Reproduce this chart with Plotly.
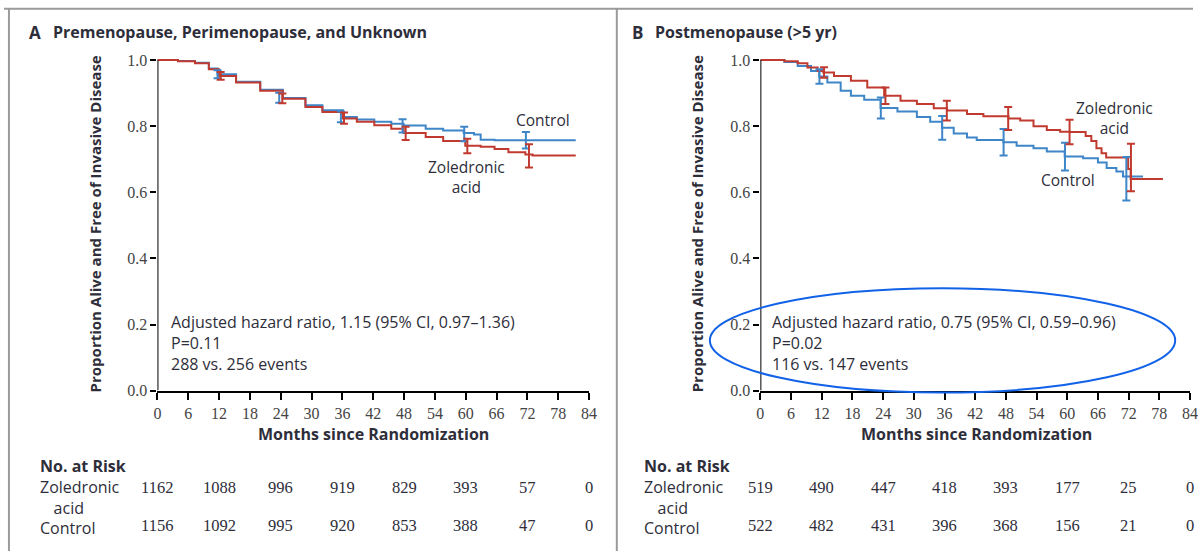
import plotly.graph_objects as go

W, H = 1201, 560

# ---------------- data ----------------
x_ticks = list(range(0, 85, 6))
y_ticks = [0.0, 0.2, 0.4, 0.6, 0.8, 1.0]
y_tick_text = ["0.0", "0.2", "0.4", "0.6", "0.8", "1.0"]
risk_months = [0, 12, 24, 36, 48, 60, 72, 84]
bar_months = [12, 24, 36, 48, 60, 72]

# Panel A: Premenopause, Perimenopause, and Unknown
a_zol_t = [0, 4, 7.3, 10, 12, 15.3, 20, 24.4, 28.8, 32.1, 36.1, 38.8, 42.2, 45.5, 47.9, 52.2,
           55.6, 59.9, 62.9, 65.6, 68.3, 71.6, 73, 81.4]
a_zol_s = [1.0, 0.996, 0.990, 0.972, 0.952, 0.932, 0.907, 0.883, 0.858, 0.843, 0.823, 0.813,
           0.803, 0.792, 0.779, 0.767, 0.755, 0.741, 0.738, 0.731, 0.721, 0.714, 0.711, 0.711]
a_ctl_t = [0, 4, 7.3, 10, 11.7, 15.3, 20, 24.4, 28.8, 32.1, 36.1, 38.8, 42.2, 45.5, 47.9, 52.2,
           55.6, 59.6, 61.6, 62.9, 65.6, 81.4]
a_ctl_s = [1.0, 0.997, 0.992, 0.974, 0.957, 0.934, 0.910, 0.885, 0.863, 0.848, 0.828, 0.820,
           0.813, 0.807, 0.802, 0.792, 0.787, 0.779, 0.775, 0.759, 0.757, 0.757]
a_zol_bar = [0.952, 0.884, 0.824, 0.778, 0.740, 0.710]
a_zol_err = [0.012, 0.015, 0.017, 0.020, 0.022, 0.035]
a_ctl_bar = [0.957, 0.886, 0.828, 0.801, 0.776, 0.757]
a_ctl_err = [0.012, 0.015, 0.016, 0.020, 0.022, 0.025]
a_risk_zol = ["1162", "1088", "996", "919", "829", "393", "57", "0"]
a_risk_ctl = ["1156", "1092", "995", "920", "853", "388", "47", "0"]

# Panel B: Postmenopause (>5 yr)
b_zol_t = [0, 4.7, 7.3, 9.2, 11.2, 12.3, 14.4, 17.7, 20.9, 24.2, 27.4, 30.6, 33.9, 36.5, 40.4,
           43.6, 48.5, 50.8, 53.4, 56, 58.6, 60.5, 63.6, 64.7, 65.7, 66.7, 67.6, 71.9, 72.4, 78.7]
b_zol_s = [1.0, 0.996, 0.990, 0.977, 0.967, 0.962, 0.952, 0.937, 0.917, 0.892, 0.877, 0.867,
           0.854, 0.847, 0.837, 0.830, 0.823, 0.817, 0.800, 0.788, 0.783, 0.782, 0.770, 0.755,
           0.733, 0.718, 0.705, 0.670, 0.640, 0.640]
b_ctl_t = [0, 4.7, 7.3, 9.9, 11.5, 13.1, 15.7, 17.7, 20.3, 23.5, 26.8, 30.6, 33.2, 35.5, 37.8,
           40.4, 42.3, 47.5, 50.1, 53.4, 56, 59.5, 63.1, 66, 67.7, 69.6, 70.9, 74.8]
b_ctl_s = [1.0, 0.994, 0.982, 0.967, 0.950, 0.932, 0.907, 0.892, 0.880, 0.855, 0.844, 0.828,
           0.813, 0.795, 0.778, 0.766, 0.758, 0.751, 0.741, 0.733, 0.723, 0.708, 0.703, 0.690,
           0.673, 0.663, 0.648, 0.648]
b_zol_bar = [0.962, 0.892, 0.847, 0.823, 0.782, 0.675]
b_zol_err = [0.016, 0.025, 0.030, 0.035, 0.037, 0.072]
b_ctl_bar = [0.950, 0.855, 0.795, 0.751, 0.708, 0.641]
b_ctl_err = [0.022, 0.032, 0.036, 0.040, 0.042, 0.066]
b_risk_zol = ["519", "490", "447", "418", "393", "177", "25", "0"]
b_risk_ctl = ["522", "482", "431", "396", "368", "156", "21", "0"]

# ---------------- style ----------------
RED = "#c13a2f"
BLUE = "#3f86c8"
TXT = "#2e2e3a"
SANS = "Open Sans, Noto Sans, sans-serif"
SERIF = "Liberation Serif, DejaVu Serif, serif"
INDENT = "\u200b\u2002\u2005\u200a"


def px(x):
    return x / W


def py(y):
    return 1 - y / H


Y_TOP = 1.03
y0_px, y1_px = 397, 61
ytop_px = y1_px - (Y_TOP - 1.0) * (y0_px - y1_px)
ydom = [py(y0_px), py(ytop_px)]

fig = go.Figure()


def add_panel(xa, ya, zol_t, zol_s, ctl_t, ctl_s, zb, ze, cb, ce, dodge):
    for t, s, c, name in [(ctl_t, ctl_s, BLUE, "Control"), (zol_t, zol_s, RED, "Zoledronic acid")]:
        fig.add_trace(go.Scatter(x=t, y=s, mode="lines", line=dict(color=c, width=2, shape="hv"),
                                 xaxis=xa, yaxis=ya, showlegend=False, hoverinfo="skip", name=name))
    for b, e, c, d in [(cb, ce, BLUE, -dodge), (zb, ze, RED, dodge)]:
        fig.add_trace(go.Scatter(x=[m + d for m in bar_months], y=b, mode="markers",
                                 marker=dict(size=1, color=c, opacity=0),
                                 error_y=dict(type="data", array=e, visible=True, color=c,
                                              thickness=2, width=4),
                                 xaxis=xa, yaxis=ya, showlegend=False, hoverinfo="skip"))


add_panel("x", "y", a_zol_t, a_zol_s, a_ctl_t, a_ctl_s, a_zol_bar, a_zol_err,
          a_ctl_bar, a_ctl_err, 0.3)
add_panel("x2", "y2", b_zol_t, b_zol_s, b_ctl_t, b_ctl_s, b_zol_bar, b_zol_err,
          b_ctl_bar, b_ctl_err, 0.45)

xcommon = dict(range=[0, 84], tickvals=x_ticks, ticks="outside", ticklen=7, tickwidth=1.5,
               tickcolor="black", showline=True, linecolor="black", linewidth=2,
               showgrid=False, zeroline=False,
               tickfont=dict(family=SERIF, size=16, color="#444"), fixedrange=True)
ycommon = dict(range=[0, Y_TOP], tickvals=y_ticks, ticktext=y_tick_text, ticks="outside",
               ticklen=6, tickwidth=1.5, tickcolor="black", showline=False,
               showgrid=False, zeroline=False, domain=ydom,
               tickfont=dict(family=SERIF, size=16, color="#444"), fixedrange=True)

fig.update_layout(
    width=W, height=H, margin=dict(l=0, r=0, t=0, b=0),
    paper_bgcolor="white", plot_bgcolor="white",
    xaxis=dict(domain=[px(155), px(591)], anchor="y", **xcommon),
    yaxis=dict(anchor="x", **ycommon),
    xaxis2=dict(domain=[px(764), px(1198)], anchor="y2", **xcommon),
    yaxis2=dict(anchor="x2", **ycommon),
)

shapes = []
for xr, yr in [("x", "y"), ("x2", "y2")]:
    shapes.append(dict(type="line", xref=xr, yref=yr, x0=0, x1=0, y0=0, y1=1.0,
                       line=dict(color="black", width=2)))
frame = dict(color="#9a9a9a", width=2)
shapes.append(dict(type="line", xref="paper", yref="paper", x0=0, x1=1, y0=py(9), y1=py(9), line=frame))
shapes.append(dict(type="line", xref="paper", yref="paper", x0=px(5), x1=px(5), y0=0, y1=py(9), line=frame))
shapes.append(dict(type="line", xref="paper", yref="paper", x0=px(619), x1=px(619), y0=0, y1=py(9), line=frame))
shapes.append(dict(type="circle", xref="paper", yref="paper", x0=px(713), x1=px(1183),
                   y0=py(399), y1=py(293), line=dict(color="#1262e8", width=2)))
fig.update_layout(shapes=shapes)

ann = []


def text(x, y, s, size=15, bold=False, family=SANS, xanchor="left", color=TXT, angle=0,
         xref="paper", align="left"):
    if bold:
        s = "<b>" + s + "</b>"
    ann.append(dict(x=x if xref != "paper" else px(x), y=py(y), xref=xref, yref="paper", text=s,
                    showarrow=False, xanchor=xanchor, yanchor="middle", textangle=angle,
                    align=align, borderpad=0, font=dict(family=family, size=size, color=color)))


risk_label = "<b>No. at Risk</b><br>Zoledronic<br>" + INDENT + "acid<br>Control"

# Panel A texts
text(24, 33, "A", size=17, bold=True)
text(48, 33, "Premenopause, Perimenopause, and Unknown", size=16, bold=True)
text(92, 228, "Proportion Alive and Free of Invasive Disease", size=15, bold=True,
     xanchor="center", angle=-90)
text(373, 441, "Months since Randomization", size=16, bold=True, xanchor="center")
text(544, 122, "Control", size=15.5, xanchor="center")
text(467, 179.5, "Zoledronic<br>acid", size=15.5, xanchor="center", align="center")
text(168, 349, "Adjusted hazard ratio, 1.15 (95% CI, 0.97\u20131.36)<br>P=0.11<br>288 vs. 256 events",
     size=16)
text(35, 505, risk_label, size=16)
for m, z, c in zip(risk_months, a_risk_zol, a_risk_ctl):
    text(m, 495, z, size=16.5, family=SERIF, xanchor="center", xref="x")
    text(m, 534, c, size=16.5, family=SERIF, xanchor="center", xref="x")

# Panel B texts
text(633, 33, "B", size=17, bold=True)
text(657, 33, "Postmenopause (>5 yr)", size=16, bold=True)
text(700, 228, "Proportion Alive and Free of Invasive Disease", size=15, bold=True,
     xanchor="center", angle=-90)
text(982, 441, "Months since Randomization", size=16, bold=True, xanchor="center")
text(1122, 120, "Zoledronic<br>acid", size=15.5, xanchor="center", align="center")
text(1075, 183, "Control", size=15.5, xanchor="center")
text(775, 349, "Adjusted hazard ratio, 0.75 (95% CI, 0.59\u20130.96)<br>P=0.02<br>116 vs. 147 events",
     size=16)
text(645, 505, risk_label, size=16)
for m, z, c in zip(risk_months, b_risk_zol, b_risk_ctl):
    text(m, 495, z, size=16.5, family=SERIF, xanchor="center", xref="x2")
    text(m, 534, c, size=16.5, family=SERIF, xanchor="center", xref="x2")

fig.update_layout(annotations=ann)
fig.write_html("out.html")
